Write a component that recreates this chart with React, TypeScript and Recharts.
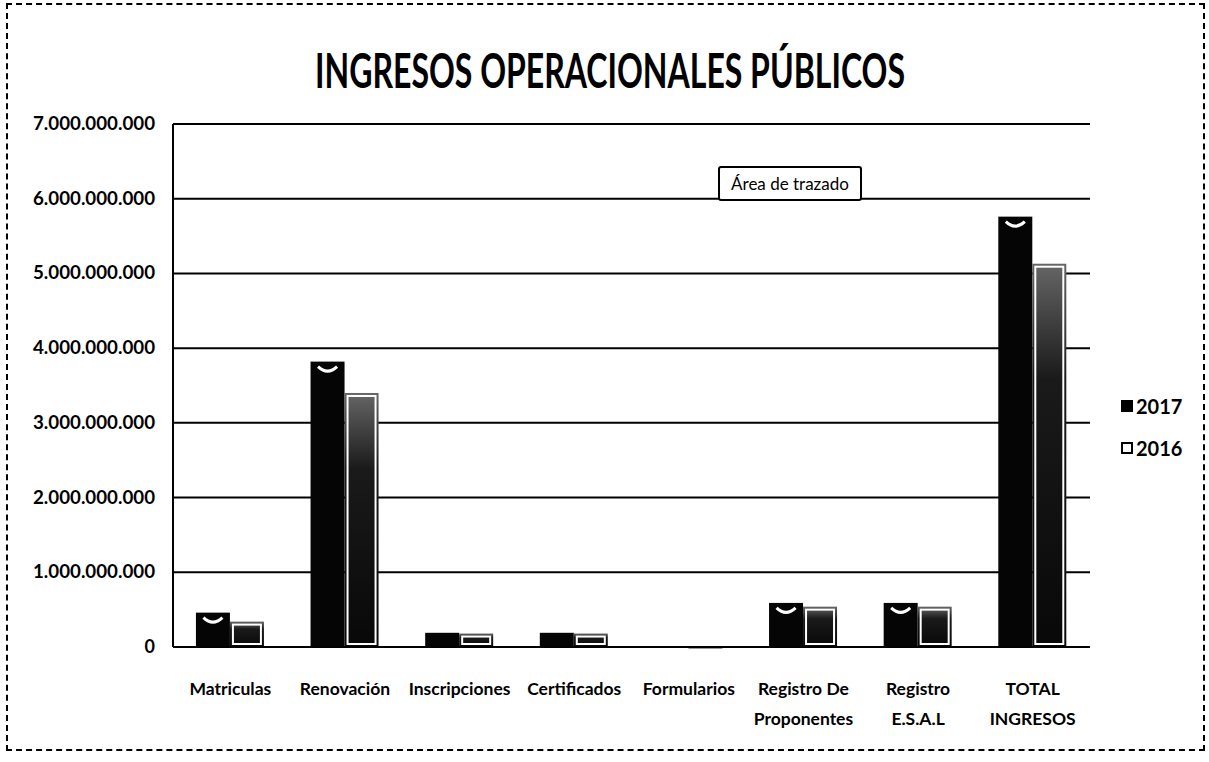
import React from "react";
import { Bar, BarChart, CartesianGrid, XAxis, YAxis } from "recharts";

const CATEGORIES = [
  "Matriculas",
  "Renovación",
  "Inscripciones",
  "Certificados",
  "Formularios",
  "Registro De\nProponentes",
  "Registro\nE.S.A.L",
  "TOTAL\nINGRESOS",
];
const VALUES_2017 = [460e6, 3820e6, 190e6, 190e6, 12e6, 590e6, 590e6, 5760e6];
const VALUES_2016 = [340e6, 3400e6, 180e6, 180e6, 8e6, 540e6, 540e6, 5130e6];
const Y_TICKS = [0, 1e9, 2e9, 3e9, 4e9, 5e9, 6e9, 7e9];
const SERIES = ["2017", "2016"];

const FONT = "Lato, 'Open Sans', sans-serif";

const data = CATEGORIES.map((name, i) => ({
  name,
  y2017: VALUES_2017[i],
  y2016: VALUES_2016[i],
}));

function fmt(v: number): string {
  return String(Math.round(v)).replace(/\B(?=(\d{3})+(?!\d))/g, ".");
}

function YTick(props: any) {
  const { x, y, payload } = props;
  const label = fmt(payload.value);
  return (
    <text
      x={x}
      y={y}
      dy={6}
      textAnchor="end"
      fontFamily={FONT}
      fontWeight={700}
      fontSize={18}
      fill="#000"
      textLength={label.length > 1 ? 122 : undefined}
      lengthAdjust="spacingAndGlyphs"
    >
      {label}
    </text>
  );
}

function XTick(props: any) {
  const { x, y, payload } = props;
  const lines = String(payload.value).split("\n");
  return (
    <text x={x} y={y} textAnchor="middle" fontFamily={FONT} fontWeight={700} fontSize={17.5} fill="#000">
      {lines.map((ln, i) => (
        <tspan key={ln} x={x} dy={i === 0 ? 40 : 30}>
          {ln}
        </tspan>
      ))}
    </text>
  );
}

function Bar2017(props: any) {
  const { x, y, width, height } = props;
  if (!height || height <= 0) return null;
  return (
    <g>
      <rect x={x} y={y} width={width} height={height} fill="#050505" />
      {height > 16 && (
        <path
          d={`M${x + width * 0.22},${y + 5} Q${x + width / 2},${y + 14} ${x + width * 0.78},${y + 5}`}
          stroke="#fff"
          strokeWidth={3}
          fill="none"
        />
      )}
    </g>
  );
}

function Bar2016(props: any) {
  const { x, y, width, height } = props;
  if (!height || height <= 0) return null;
  return (
    <g>
      <rect x={x} y={y} width={width} height={Math.max(height, 2)} fill="url(#grad2016)" />
      {height > 8 && (
        <rect
          x={x + 3}
          y={y + 3}
          width={width - 6}
          height={height - 6}
          fill="none"
          stroke="#fff"
          strokeWidth={2}
        />
      )}
    </g>
  );
}

export default function App() {
  return (
    <div
      style={{
        position: "absolute",
        left: 0,
        top: 0,
        width: 1209,
        height: 762,
        background: "#fff",
        fontFamily: FONT,
      }}
    >
      <div
        style={{
          position: "absolute",
          left: 6,
          top: 3,
          width: 1195,
          height: 744,
          border: "2px dashed #000",
        }}
      />
      <svg width={1209} height={110} style={{ position: "absolute", left: 0, top: 0 }}>
        <text
          x={610}
          y={88}
          textAnchor="middle"
          fontFamily={FONT}
          fontWeight={700}
          fontSize={48}
          textLength={590}
          lengthAdjust="spacingAndGlyphs"
          fill="#000"
        >
          INGRESOS OPERACIONALES PÚBLICOS
        </text>
      </svg>
      <div style={{ position: "absolute", left: 0, top: 0 }}>
        <BarChart
          width={1209}
          height={762}
          data={data}
          margin={{ top: 124, right: 119, bottom: 15, left: 13 }}
          barCategoryGap="20%"
          barGap={0}
        >
          <defs>
            <linearGradient id="grad2016" x1="0" y1="0" x2="0" y2="1">
              <stop offset="0" stopColor="#666" />
              <stop offset="0.3" stopColor="#1a1a1a" />
              <stop offset="1" stopColor="#080808" />
            </linearGradient>
          </defs>
          <CartesianGrid vertical={false} stroke="#000" strokeWidth={2} />
          <XAxis
            dataKey="name"
            height={100}
            axisLine={{ stroke: "#000", strokeWidth: 2 }}
            tickLine={false}
            tick={<XTick />}
            interval={0}
          />
          <YAxis
            width={160}
            domain={[0, 7e9]}
            ticks={Y_TICKS}
            axisLine={{ stroke: "#000", strokeWidth: 2 }}
            tickLine={false}
            tickSize={0}
            tickMargin={18}
            tick={<YTick />}
          />
          <Bar dataKey="y2017" name={SERIES[0]} shape={<Bar2017 />} isAnimationActive={false} />
          <Bar dataKey="y2016" name={SERIES[1]} shape={<Bar2016 />} isAnimationActive={false} />
        </BarChart>
      </div>
      <div
        style={{
          position: "absolute",
          left: 718,
          top: 166,
          width: 140,
          height: 31,
          border: "2px solid #000",
          borderRadius: 3,
          background: "#fff",
          fontSize: 17,
          lineHeight: "31px",
          textAlign: "center",
          color: "#000",
        }}
      >
        Área de trazado
      </div>
      {SERIES.map((s, i) => (
        <div
          key={s}
          style={{
            position: "absolute",
            left: 1121,
            top: 394 + i * 42,
            display: "flex",
            alignItems: "center",
            fontWeight: 700,
            fontSize: 20,
            color: "#000",
          }}
        >
          <span
            style={{
              display: "inline-block",
              width: 12,
              height: 12,
              boxSizing: "border-box",
              background: i === 0 ? "#000" : "#fff",
              border: "2px solid #000",
              marginRight: 3,
            }}
          />
          {s}
        </div>
      ))}
    </div>
  );
}
